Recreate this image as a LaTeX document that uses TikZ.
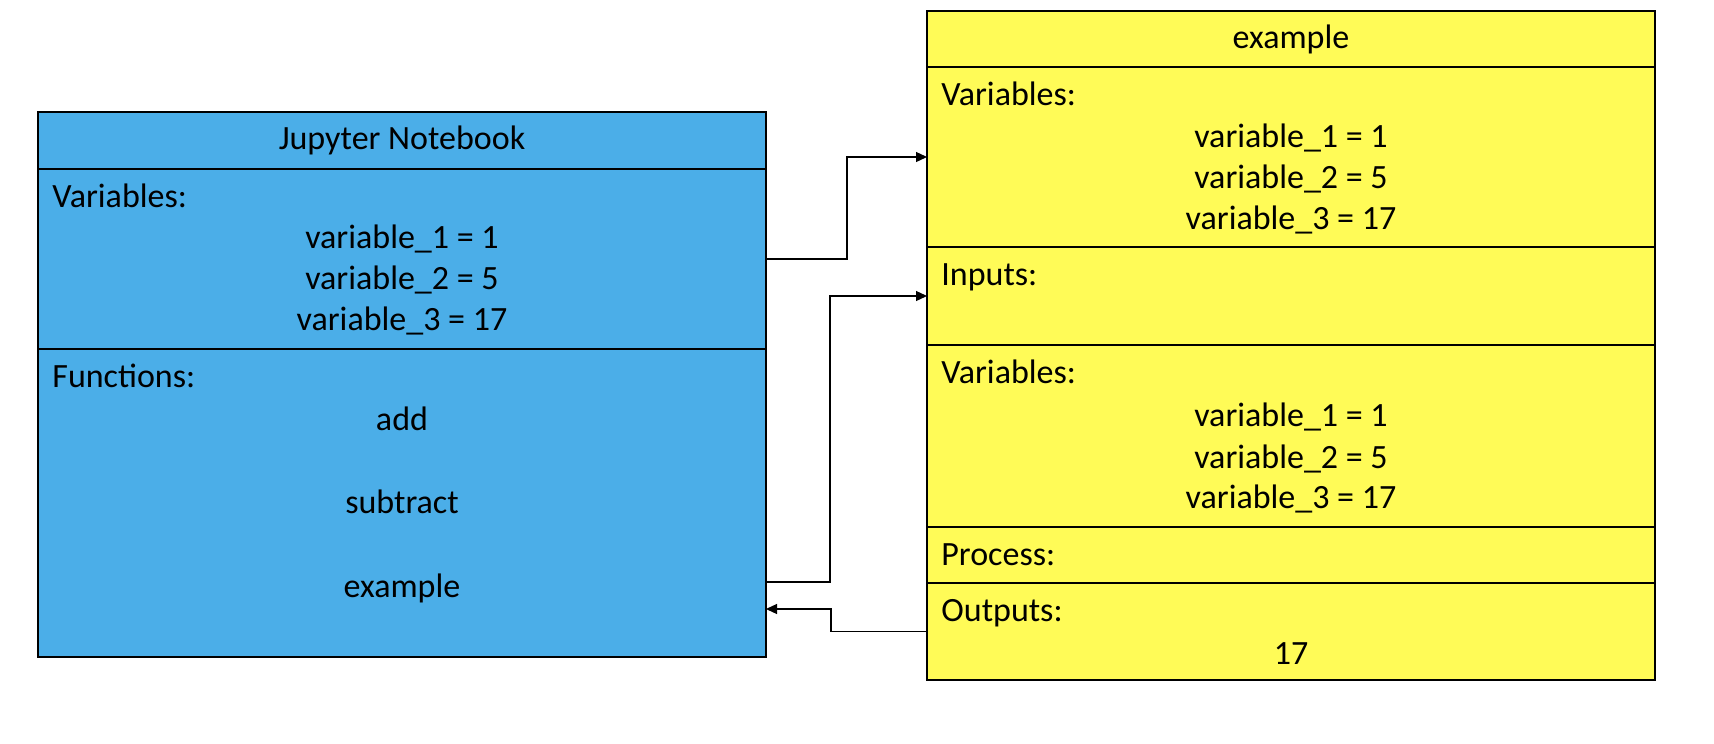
\documentclass[tikz,border=0pt]{standalone}
\usepackage{fontspec}
\setmainfont{Carlito}
\usetikzlibrary{positioning,arrows.meta,calc}

\definecolor{nbblue}{HTML}{4BAEE8}
\definecolor{exyellow}{HTML}{FFFB57}

\tikzset{
    cell/.style = {draw, line width = 1pt, inner sep = 0pt, outer sep = 0pt, minimum width = 364pt},
    nbcell/.style = {cell, fill = nbblue},
    excell/.style = {cell, fill = exyellow},
    hd/.style = {anchor = base west, inner sep = 0pt},
    ln/.style = {anchor = base, inner sep = 0pt},
    conn/.style = {line width = 0.65pt, -{Triangle[length = 5.5pt, width = 5pt]}}
}

\begin{document}
\begin{tikzpicture}[x = 0.5pt, y = -0.5pt, font = \fontsize{17pt}{20.5pt}\selectfont]
    \useasboundingbox (0,0) rectangle (1714,744);
    % Jupyter Notebook
    \node[nbcell, anchor = north west, minimum height = 28.5pt] (nb-title) at (38,112) {};
    \node[nbcell, below = 0pt of nb-title, minimum height = 90pt] (nb-vars) {};
    \node[nbcell, below = 0pt of nb-vars, minimum height = 154pt] (nb-funcs) {};
    \node (nb-name) at (nb-title) {Jupyter Notebook};
    \node[hd] (nb-vars-hd) at ([shift = {(7pt,-19pt)}]nb-vars.north west) {Variables:};
    \node[ln] (nb-v1) at ([yshift = -39.5pt]nb-vars.north) {variable\_1 = 1};
    \node[ln] (nb-v2) at ([yshift = -60pt]nb-vars.north) {variable\_2 = 5};
    \node[ln] (nb-v3) at ([yshift = -80.5pt]nb-vars.north) {variable\_3 = 17};
    \node[hd] (nb-funcs-hd) at ([shift = {(7pt,-19pt)}]nb-funcs.north west) {Functions:};
    \node[ln] (fn-add) at ([yshift = -40.5pt]nb-funcs.north) {add};
    \node[ln] (fn-subtract) at ([yshift = -82pt]nb-funcs.north) {subtract};
    \node[ln] (fn-example) at ([yshift = -124pt]nb-funcs.north) {example};
    % example function
    \node[excell, anchor = north west, minimum height = 28pt] (ex-title) at (927,11) {};
    \node[excell, below = 0pt of ex-title, minimum height = 90pt] (ex-vars) {};
    \node[excell, below = 0pt of ex-vars, minimum height = 49pt] (ex-inputs) {};
    \node[excell, below = 0pt of ex-inputs, minimum height = 91pt] (ex-vars2) {};
    \node[excell, below = 0pt of ex-vars2, minimum height = 28pt] (ex-process) {};
    \node[excell, below = 0pt of ex-process, minimum height = 48.5pt] (ex-outputs) {};
    \node (ex-name) at (ex-title) {example};
    \node[hd] (ex-vars-hd) at ([shift = {(7pt,-19pt)}]ex-vars.north west) {Variables:};
    \node[ln] (ex-v1) at ([yshift = -40pt]ex-vars.north) {variable\_1 = 1};
    \node[ln] (ex-v2) at ([yshift = -60.5pt]ex-vars.north) {variable\_2 = 5};
    \node[ln] (ex-v3) at ([yshift = -81pt]ex-vars.north) {variable\_3 = 17};
    \node[hd] (ex-inputs-hd) at ([shift = {(7pt,-19pt)}]ex-inputs.north west) {Inputs:};
    \node[hd] (ex-vars2-hd) at ([shift = {(7pt,-19pt)}]ex-vars2.north west) {Variables:};
    \node[ln] (ex-w1) at ([yshift = -40.5pt]ex-vars2.north) {variable\_1 = 1};
    \node[ln] (ex-w2) at ([yshift = -61.5pt]ex-vars2.north) {variable\_2 = 5};
    \node[ln] (ex-w3) at ([yshift = -81.5pt]ex-vars2.north) {variable\_3 = 17};
    \node[hd] (ex-process-hd) at ([shift = {(7pt,-19pt)}]ex-process.north west) {Process:};
    \node[hd] (ex-outputs-hd) at ([shift = {(7pt,-19pt)}]ex-outputs.north west) {Outputs:};
    \node[ln] (ex-result) at ([yshift = -40.5pt]ex-outputs.north) {17};
    % connectors
    \coordinate (nb-call) at ($(nb-funcs.east)+(0,79)$);
    \coordinate (nb-back) at ($(nb-funcs.east)+(0,106)$);
    \draw[conn] (nb-vars.east) -- ++(81,0) |- (ex-vars.west);
    \draw[conn] (nb-call) -- ++(64,0) |- (ex-inputs.west);
    \draw[conn] (ex-outputs.west) -- ++(-96,0) |- (nb-back);
\end{tikzpicture}
\end{document}
